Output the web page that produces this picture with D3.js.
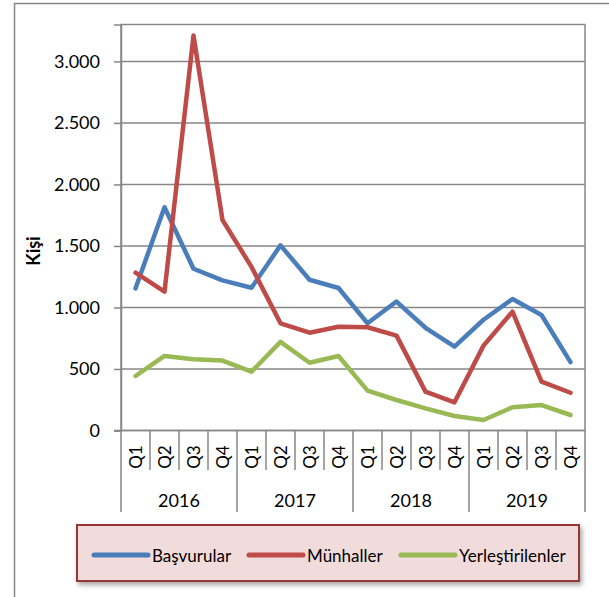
<!DOCTYPE html>
<html>
<head>
<meta charset="utf-8">
<script src="https://cdnjs.cloudflare.com/ajax/libs/d3/7.8.5/d3.min.js"></script>
<style>
  body { margin: 0; background: #fff; }
  text { font-family: Lato, "Open Sans", sans-serif; fill: #000; }
</style>
</head>
<body>
<div id="chart"></div>
<script>
var years = ["2016", "2017", "2018", "2019"];
var quarters = ["Q1", "Q2", "Q3", "Q4"];
var yTicks = [0, 500, 1000, 1500, 2000, 2500, 3000];

// kişi sayıları, çeyrek bazında
var basvurular = [1155, 1815, 1315, 1220, 1160, 1505, 1225, 1158, 872, 1048, 835, 681, 900, 1069, 939, 556];
var munhaller = [1283, 1128, 3210, 1711, 1330, 871, 795, 843, 839, 771, 316, 229, 690, 966, 397, 307];
var yerlestirilenler = [443, 606, 579, 568, 478, 720, 551, 606, 324, 248, 180, 118, 85, 189, 207, 126];

var seriesNames = ["Başvurular", "Münhaller", "Yerleştirilenler"];
var seriesColors = ["#4a7ebb", "#be4b48", "#98b954"];

var width = 609, height = 597;
var gridColor = "#878787";

var cats = [];
years.forEach(function(y) { quarters.forEach(function(q) { cats.push(y + "-" + q); }); });

var svg = d3.select("#chart").append("svg")
    .attr("width", width)
    .attr("height", height);

var defs = svg.append("defs");
var shadow = defs.append("filter").attr("id", "shadow")
    .attr("x", "-5%").attr("y", "-10%").attr("width", "115%").attr("height", "140%");
shadow.append("feDropShadow")
    .attr("dx", 2).attr("dy", 3).attr("stdDeviation", 2.5)
    .attr("flood-color", "#000").attr("flood-opacity", 0.35);

// dış çerçeve (sağ ve alt kenar resmin dışında)
svg.append("path")
    .attr("d", "M14.5," + height + "V3.5H" + width)
    .attr("fill", "none")
    .attr("stroke", gridColor)
    .attr("stroke-width", 1.5);

var x = d3.scaleBand()
    .domain(cats)
    .range([121, 585]);

var y = d3.scaleLinear()
    .domain([0, 3300])
    .range([430.5, 24.5]);

var plot = svg.append("g");

// yatay kılavuz çizgileri
plot.selectAll("line.grid")
    .data(yTicks.slice(1))
  .enter().append("line")
    .attr("class", "grid")
    .attr("x1", x.range()[0])
    .attr("x2", x.range()[1])
    .attr("y1", function(d) { return y(d); })
    .attr("y2", function(d) { return y(d); })
    .attr("stroke", gridColor)
    .attr("stroke-width", 1.5);

// çizim alanı çerçevesi
plot.append("rect")
    .attr("x", x.range()[0])
    .attr("y", y.range()[1])
    .attr("width", x.range()[1] - x.range()[0])
    .attr("height", y.range()[0] - y.range()[1])
    .attr("fill", "none")
    .attr("stroke", gridColor)
    .attr("stroke-width", 1.5);

// y ekseni
var yAxis = svg.append("g")
    .attr("transform", "translate(" + x.range()[0] + ",0)")
    .call(d3.axisLeft(y)
      .tickValues(yTicks)
      .tickSize(7)
      .tickPadding(14)
      .tickFormat(function(d) { return d3.format(",")(d).replace(/,/g, "."); }));
yAxis.select(".domain").attr("stroke", gridColor).attr("stroke-width", 1.5);
yAxis.selectAll(".tick line").attr("stroke", gridColor).attr("stroke-width", 1.5);
yAxis.selectAll(".tick text")
    .style("font-family", "Lato, sans-serif")
    .style("font-size", "18px")
    .attr("fill", "#000");

svg.append("text")
    .attr("transform", "translate(40,251) rotate(-90)")
    .attr("text-anchor", "middle")
    .style("font-size", "18px")
    .style("font-weight", "bold")
    .text("Kişi");

// x ekseni: çeyrek ve yıl ayraçları
var xAxisG = svg.append("g");
xAxisG.append("line")
    .attr("x1", 114).attr("x2", x.range()[1])
    .attr("y1", y(0)).attr("y2", y(0))
    .attr("stroke", gridColor).attr("stroke-width", 1.5);

var seps = d3.range(cats.length + 1);
xAxisG.selectAll("line.sep")
    .data(seps)
  .enter().append("line")
    .attr("class", "sep")
    .attr("x1", function(i) { return x.range()[0] + i * x.bandwidth(); })
    .attr("x2", function(i) { return x.range()[0] + i * x.bandwidth(); })
    .attr("y1", y(0))
    .attr("y2", function(i) { return i % 4 == 0 ? 512 : 470; })
    .attr("stroke", gridColor)
    .attr("stroke-width", 1.5);

xAxisG.selectAll("text.q")
    .data(cats)
  .enter().append("text")
    .attr("class", "q")
    .attr("transform", function(d) {
      return "translate(" + (x(d) + x.bandwidth() / 2 + 6) + ",457) rotate(-90)";
    })
    .attr("text-anchor", "middle")
    .style("font-size", "17px")
    .text(function(d) { return d.split("-")[1]; });

xAxisG.selectAll("text.year")
    .data(years)
  .enter().append("text")
    .attr("class", "year")
    .attr("x", function(d) { return x(d + "-Q1") + 2 * x.bandwidth(); })
    .attr("y", 507)
    .attr("text-anchor", "middle")
    .style("font-size", "18px")
    .text(function(d) { return d; });

// seriler
var allSeries = [basvurular, munhaller, yerlestirilenler];
var line = d3.line()
    .x(function(d, i) { return x(cats[i]) + x.bandwidth() / 2; })
    .y(function(d) { return y(d); });

svg.selectAll("path.series")
    .data(allSeries)
  .enter().append("path")
    .attr("class", "series")
    .attr("d", line)
    .attr("fill", "none")
    .attr("stroke", function(d, i) { return seriesColors[i]; })
    .attr("stroke-width", 4.5)
    .attr("stroke-linejoin", "round")
    .attr("stroke-linecap", "round");

// lejant
var legend = svg.append("g");
legend.append("rect")
    .attr("x", 77).attr("y", 525)
    .attr("width", 502).attr("height", 56)
    .attr("fill", "#f2dcdb")
    .attr("stroke", "#953735")
    .attr("stroke-width", 2)
    .attr("filter", "url(#shadow)");

var legendX = [94, 249, 401];
var item = legend.selectAll("g.item")
    .data(seriesNames)
  .enter().append("g")
    .attr("class", "item")
    .attr("transform", function(d, i) { return "translate(" + legendX[i] + ",555)"; });
item.append("line")
    .attr("x1", 0).attr("x2", 54)
    .attr("stroke", function(d, i) { return seriesColors[i]; })
    .attr("stroke-width", 5)
    .attr("stroke-linecap", "round");
item.append("text")
    .attr("x", 58)
    .attr("y", 6.5)
    .style("font-size", "17px")
    .text(function(d) { return d; });
</script>
</body>
</html>
